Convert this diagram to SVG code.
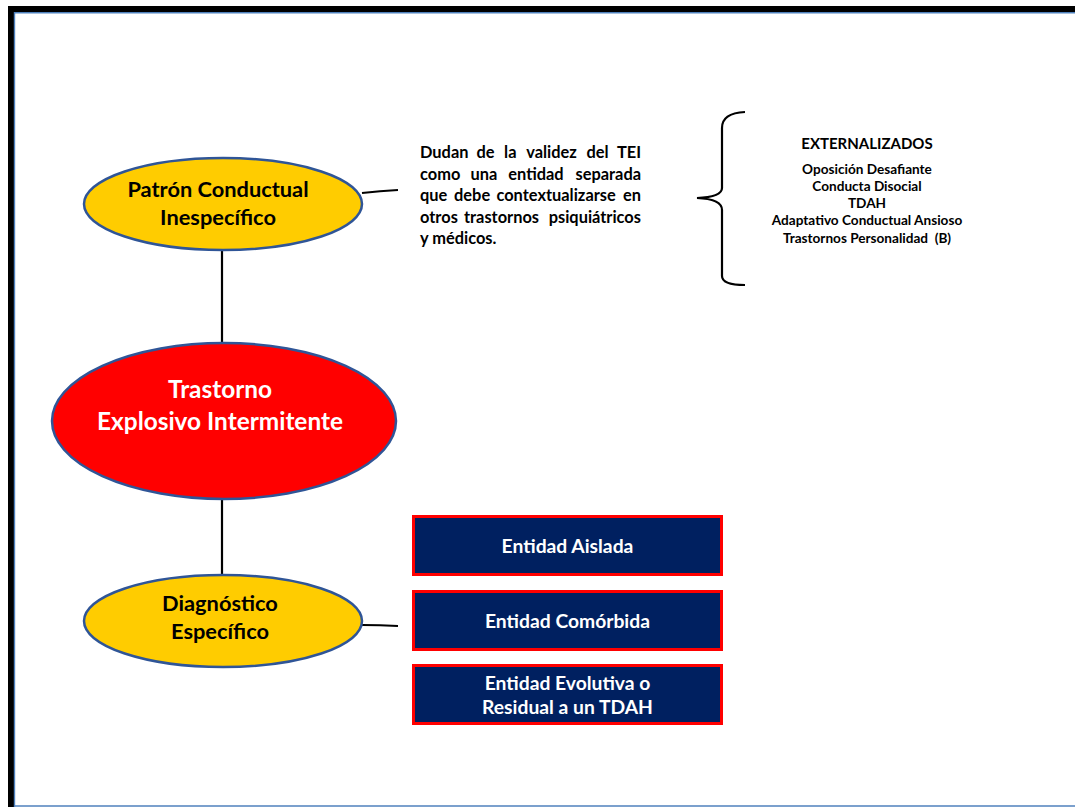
<svg xmlns="http://www.w3.org/2000/svg" width="1075" height="807" viewBox="0 0 1075 807">
  <style>
    .oval-y { fill: #FFCC00; stroke: #2F5597; stroke-width: 2.5; }
    .oval-r { fill: #FF0000; stroke: #2F5597; stroke-width: 2.5; }
    .box { fill: #002060; stroke: #FF0000; stroke-width: 3; }
    .wire { fill: none; stroke: #000000; stroke-width: 2.2; }
    text { font-family: Lato, "Open Sans", "Liberation Sans", sans-serif; font-weight: bold; }
    .t-dark { fill: #000000; font-size: 21.8px; text-anchor: middle; }
    .t-light { fill: #FFFFFF; font-size: 24.4px; text-anchor: middle; }
    .t-box { fill: #FFFFFF; font-size: 19.3px; text-anchor: middle; }
    .para { fill: #000000; font-size: 16.4px; }
    .mid { text-anchor: middle; }
    .end { text-anchor: end; }
    .head { fill: #000000; font-size: 15px; text-anchor: middle; }
    .item { fill: #000000; font-size: 13.6px; text-anchor: middle; white-space: pre; }
  </style>

  <!-- page frame -->
  <rect x="0" y="0" width="1075" height="807" fill="#FFFFFF"/>
  <rect x="8" y="6" width="1067" height="6.5" fill="#000000"/>
  <rect x="8" y="6" width="6.5" height="801" fill="#000000"/>
  <path d="M14.5 807 V12.8 H1075" fill="none" stroke="#4F81BD" stroke-width="1.4"/>
  <line x1="14" y1="806" x2="1075" y2="806" stroke="#4F81BD" stroke-width="1.6"/>

  <!-- connectors -->
  <g id="connectors">
    <line class="wire" x1="222" y1="250" x2="222" y2="343"/>
    <line class="wire" x1="222" y1="499" x2="222" y2="576"/>
    <path class="wire" d="M362 193 Q380 191 398 190"/>
    <path class="wire" d="M362 625 Q380 625 398 626"/>
    <path class="wire" d="M745 112 Q722 113 722 128 V188 Q722 197 697 198 Q722 199 722 210 V276 Q722 285 745 285"/>
  </g>

  <g id="patron">
    <ellipse class="oval-y" cx="223" cy="204" rx="139" ry="46"/>
    <text class="t-dark" x="218" y="197">Patrón Conductual</text>
    <text class="t-dark" x="218" y="225">Inespecífico</text>
  </g>

  <g id="trastorno">
    <ellipse class="oval-r" cx="224" cy="421" rx="172" ry="78"/>
    <text class="t-light" x="220" y="398">Trastorno</text>
    <text class="t-light" x="220" y="430">Explosivo Intermitente</text>
  </g>

  <g id="diagnostico">
    <ellipse class="oval-y" cx="223" cy="621" rx="139" ry="46"/>
    <text class="t-dark" x="220" y="611">Diagnóstico</text>
    <text class="t-dark" x="220" y="639">Específico</text>
  </g>

  <!-- justified note: first word flush left, last word flush right, inner words spread between -->
  <g id="nota">
    <text class="para" y="158"><tspan x="420">Dudan</tspan><tspan class="mid" x="485.5">de</tspan><tspan class="mid" x="510.3">la</tspan><tspan class="mid" x="551.5">validez</tspan><tspan class="mid" x="597.6">del</tspan><tspan class="end" x="641">TEI</tspan></text>
    <text class="para" y="179.5"><tspan x="420">como</tspan><tspan class="mid" x="483.8">una</tspan><tspan class="mid" x="536">entidad</tspan><tspan class="end" x="641">separada</tspan></text>
    <text class="para" y="201"><tspan x="420">que</tspan><tspan class="mid" x="472.1">debe</tspan><tspan class="mid" x="556.1">contextualizarse</tspan><tspan class="end" x="641">en</tspan></text>
    <text class="para" y="222.5"><tspan x="420">otros</tspan><tspan class="mid" x="501.5">trastornos</tspan><tspan class="end" x="641">psiquiátricos</tspan></text>
    <text class="para" x="420" y="244">y médicos.</text>
  </g>

  <g id="externalizados">
    <text class="head" x="867" y="149">EXTERNALIZADOS</text>
    <text class="item" x="867" y="174">Oposición Desafiante</text>
    <text class="item" x="867" y="191">Conducta Disocial</text>
    <text class="item" x="867" y="208">TDAH</text>
    <text class="item" x="867" y="225">Adaptativo Conductual Ansioso</text>
    <text class="item" x="867" y="243" xml:space="preserve">Trastornos Personalidad  (B)</text>
  </g>

  <g id="aislada">
    <rect class="box" x="413.5" y="516.5" width="308" height="58"/>
    <text class="t-box" x="567.5" y="553">Entidad Aislada</text>
  </g>

  <g id="comorbida">
    <rect class="box" x="413.5" y="591.5" width="308" height="58"/>
    <text class="t-box" x="567.5" y="628">Entidad Comórbida</text>
  </g>

  <g id="evolutiva">
    <rect class="box" x="413.5" y="665.5" width="308" height="58"/>
    <text class="t-box" x="567.5" y="690">Entidad Evolutiva o</text>
    <text class="t-box" x="567.5" y="714">Residual a un TDAH</text>
  </g>
</svg>
